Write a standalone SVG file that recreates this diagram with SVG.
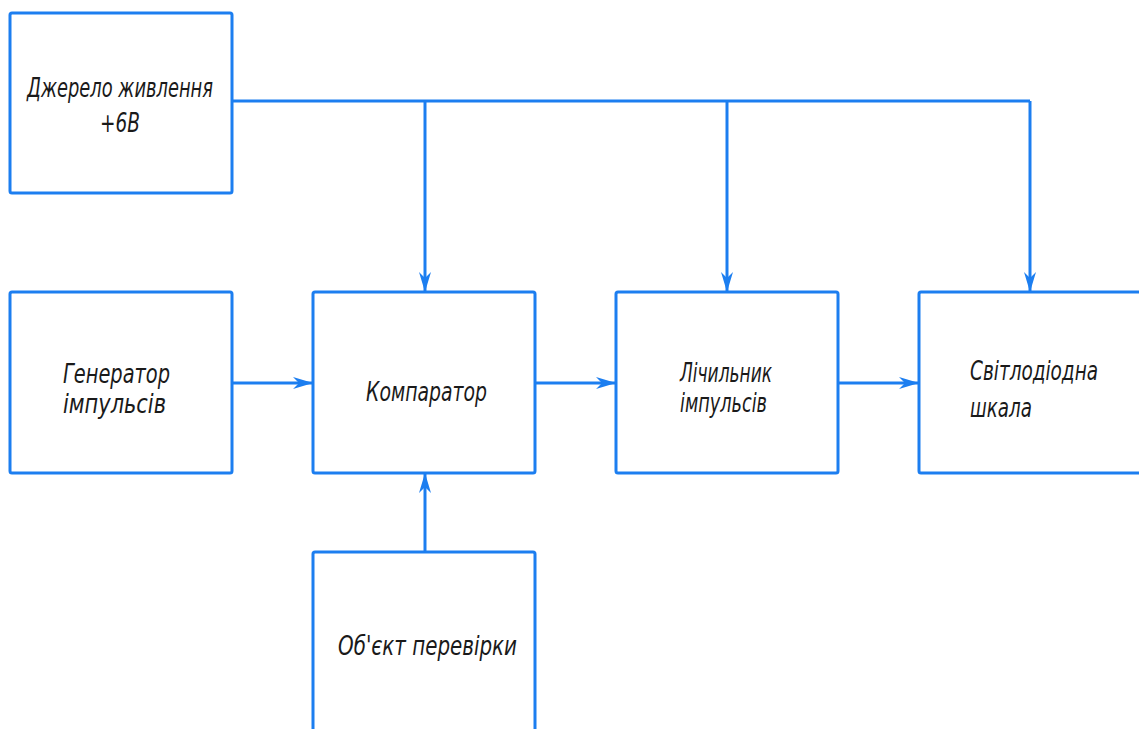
<svg xmlns="http://www.w3.org/2000/svg" width="1139" height="729" viewBox="0 0 1139 729">
<defs>
<style>
.box{fill:#ffffff;stroke:#1c7ef0;stroke-width:3;}
.wire{fill:none;stroke:#1c7ef0;stroke-width:3;}
.lbl{font-family:"DejaVu Sans","Liberation Sans",sans-serif;font-style:italic;font-weight:200;font-size:26px;fill:#1a1a1a;}
</style>
<marker id="arr" viewBox="-22 -8 24 16" refX="0" refY="0" markerWidth="24" markerHeight="16" markerUnits="userSpaceOnUse" orient="auto">
<path d="M0,0 L-20,-6 L-14,0 L-20,6 Z" fill="#1c7ef0"/>
</marker>
</defs>
<rect width="1139" height="729" fill="#ffffff"/>
<g id="connectors">
<path class="wire" d="M232,101 H1030"/>
<path class="wire" d="M425,101 V292" marker-end="url(#arr)"/>
<path class="wire" d="M727,101 V292" marker-end="url(#arr)"/>
<path class="wire" d="M1030,101 V292" marker-end="url(#arr)"/>
<path class="wire" d="M232,383 H313" marker-end="url(#arr)"/>
<path class="wire" d="M535,383 H616" marker-end="url(#arr)"/>
<path class="wire" d="M838,383 H919" marker-end="url(#arr)"/>
<path class="wire" d="M425,552 V473" marker-end="url(#arr)"/>
</g>
<g id="power">
<rect class="box" x="10" y="13" width="222" height="180" rx="2"/>
<text class="lbl" x="27" y="97" textLength="186" lengthAdjust="spacingAndGlyphs">Джерело живлення</text>
<text class="lbl" x="100" y="132" textLength="40" lengthAdjust="spacingAndGlyphs">+6В</text>
</g>
<g id="generator">
<rect class="box" x="10" y="292" width="222" height="181" rx="2"/>
<text class="lbl" x="63" y="383" textLength="107" lengthAdjust="spacingAndGlyphs">Генератор</text>
<text class="lbl" x="63" y="413" textLength="103" lengthAdjust="spacingAndGlyphs">імпульсів</text>
</g>
<g id="comparator">
<rect class="box" x="313" y="292" width="222" height="181" rx="2"/>
<text class="lbl" x="366" y="401" textLength="121" lengthAdjust="spacingAndGlyphs">Компаратор</text>
</g>
<g id="counter">
<rect class="box" x="616" y="292" width="222" height="181" rx="2"/>
<text class="lbl" x="680" y="382" textLength="92" lengthAdjust="spacingAndGlyphs">Лічильник</text>
<text class="lbl" x="680" y="412" textLength="87" lengthAdjust="spacingAndGlyphs">імпульсів</text>
</g>
<g id="ledscale">
<rect class="box" x="919" y="292" width="240" height="181" rx="2"/>
<text class="lbl" x="970" y="380" textLength="128" lengthAdjust="spacingAndGlyphs">Світлодіодна</text>
<text class="lbl" x="970" y="417" textLength="62" lengthAdjust="spacingAndGlyphs">шкала</text>
</g>
<g id="object">
<rect class="box" x="313" y="552" width="222" height="200" rx="2"/>
<text class="lbl" x="338" y="655" textLength="179" lengthAdjust="spacingAndGlyphs">Об'єкт перевірки</text>
</g>
</svg>
